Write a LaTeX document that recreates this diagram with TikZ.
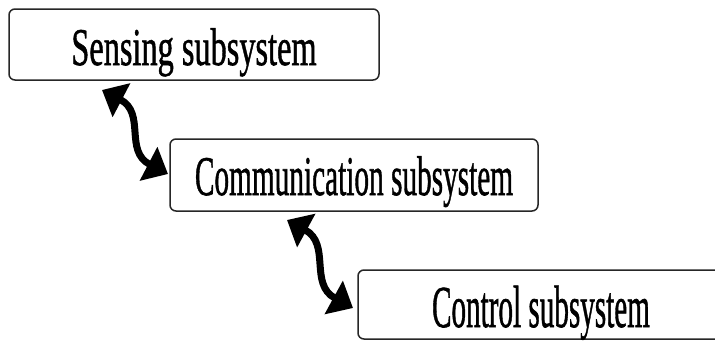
\documentclass[tikz,border=0pt]{standalone}
\usepackage{fontspec}
\usepackage{graphicx}
\setmainfont{Liberation Serif}[FakeBold=1.2]
\usetikzlibrary{arrows.meta}
\newcommand\sqztext[3]{\scalebox{#1}[1]{\fontsize{#2}{#2}\selectfont #3}}
\tikzset{
  sysbox/.style={draw=black!85, line width=1.5pt, rounded corners=6pt, fill=white,
    inner sep=0pt, anchor=base, align=center},
  dblarrow/.style={line width=7pt, black,
    {Triangle[length=22pt 0 0, width=37pt 0 0]}-{Triangle[length=22pt 0 0, width=37pt 0 0]}}
}
\begin{document}
\begin{tikzpicture}[x=1pt, y=-1pt]
\useasboundingbox (0,0) rectangle (715,341);
\clip (0,0) rectangle (715,341);
\fill[white] (0,0) rectangle (715,341);

\node[sysbox, text height=56pt, text depth=15pt, minimum width=370pt] (s) at (194,65)
  {\sqztext{0.61}{53pt}{Sensing subsystem}};
\node[sysbox, text height=56pt, text depth=16pt, minimum width=368pt] (c) at (354,195)
  {\sqztext{0.523}{56pt}{Communication subsystem}};
\node[sysbox, text height=57pt, text depth=12pt, minimum width=366pt] (k) at (541,327)
  {\sqztext{0.49}{59.5pt}{Control subsystem}};

\coordinate (a1) at (102,90);
\coordinate (b1) at (168,174);
\coordinate (a2) at (287,220);
\coordinate (b2) at (353,308);

\draw[dblarrow] (a1) .. controls (146,113) and (124,151) .. (b1);
\draw[dblarrow] (a2) .. controls (331,244) and (309,284) .. (b2);
\end{tikzpicture}
\end{document}
